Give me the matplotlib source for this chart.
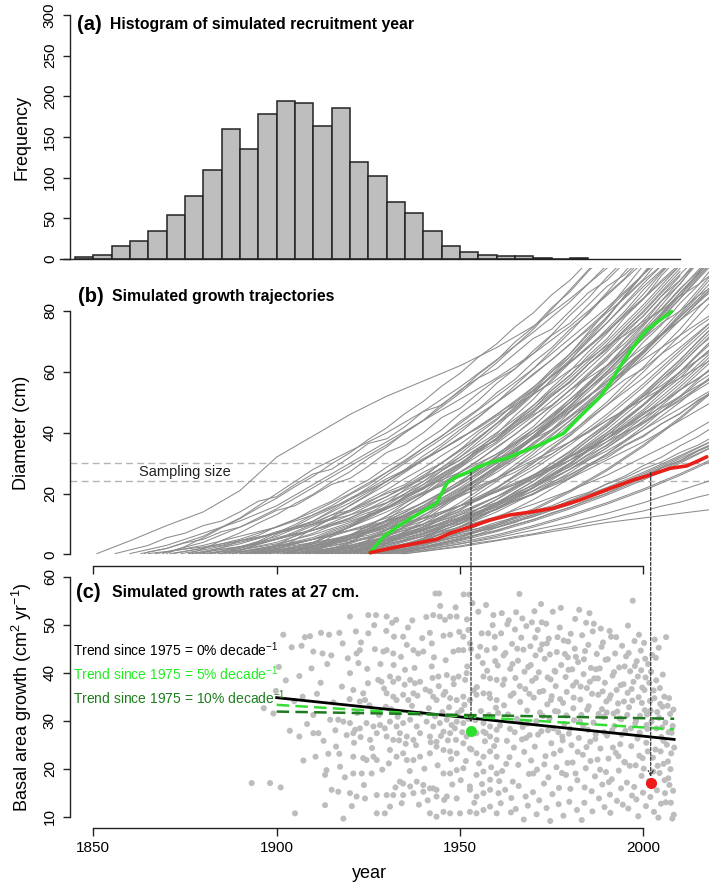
import numpy as np
import matplotlib.pyplot as plt
from matplotlib.patches import ConnectionPatch

plt.rcParams['font.family'] = ['Liberation Sans', 'DejaVu Sans']
plt.rcParams['mathtext.default'] = 'regular'

# ---------------- data ----------------
# (a) histogram of recruitment year, 5-year bins starting 1845
hist_left = list(range(1845, 1985, 5))
hist_counts = [2, 5, 16, 22, 35, 54, 78, 109, 160, 135, 178, 194, 192, 163,
               186, 119, 102, 70, 57, 34, 16, 9, 5, 4, 4, 1, 0, 1]

# (b) grey trajectories: start year, then diameter (cm) at each following decade
traj_start = [1851, 1860, 1863, 1867, 1871, 1874, 1877, 1880, 1882, 1884, 1886, 1887,
              1889, 1890, 1892, 1893, 1895, 1896, 1897, 1899, 1900, 1901, 1903, 1904,
              1905, 1906, 1907, 1908, 1909, 1910, 1911, 1912, 1913, 1914, 1915, 1916,
              1917, 1918, 1919, 1920, 1921, 1922, 1923, 1924, 1926, 1927, 1928, 1929,
              1931, 1933, 1935, 1930, 1869, 1885, 1898, 1902, 1912, 1919, 1925, 1908,
              1865, 1876, 1881, 1891, 1894]
traj_diam = [
    [4.5, 9.5, 14, 21, 32, 39, 46, 52, 57, 62, 68, 75, 84, 94, 104],
    [3, 7, 11, 16, 23, 30, 37, 44, 51, 58, 66, 75, 85, 96],
    [2, 6, 12, 20, 28, 34, 40, 47, 55, 64, 73, 83, 95],
    [0.8, 3, 6, 9, 13, 18, 24, 31, 38, 46, 55, 65, 76, 88, 99],
    [2, 5, 9, 14, 20, 27, 35, 43, 52, 61, 71, 81, 92, 103],
    [1.5, 4, 7, 10, 13, 17, 22, 27, 33, 40, 48, 56, 64, 72, 80],
    [1, 3.5, 7, 11, 17, 24, 31, 38, 46, 54, 63, 73, 84, 95],
    [2, 5, 8, 11, 15, 20, 26, 33, 41, 50, 59, 68, 77, 86],
    [2.5, 6, 11, 18, 26, 34, 42, 50, 59, 69, 80, 92, 104],
    [1, 3, 5, 8, 11, 15, 20, 25, 31, 37, 44, 51, 58, 65],
    [1.5, 4, 8, 13, 19, 26, 34, 43, 53, 64, 76, 89, 101],
    [0.8, 2.5, 5, 8, 12, 17, 23, 30, 38, 47, 57, 67, 78, 89],
    [0.7, 3, 7, 12, 18, 24, 31, 39, 48, 58, 69, 81, 94],
    [2, 4, 6, 9, 12, 16, 21, 26, 32, 38, 45, 52, 59],
    [2, 5, 9, 14, 20, 27, 35, 44, 54, 65, 77, 90, 103],
    [1.5, 3.5, 6, 9.5, 14, 19, 25, 32, 40, 49, 58, 68, 78],
    [1, 4, 9, 15, 23, 32, 42, 53, 65, 78, 92, 106],
    [0.8, 2.5, 4.5, 7, 10, 14, 19, 25, 31, 38, 46, 54, 62],
    [1, 3, 6, 10, 15, 21, 28, 36, 45, 55, 66, 78, 90],
    [0.6, 2.5, 5.5, 9.5, 15, 22, 30, 39, 49, 60, 72, 85, 98],
    [2, 4, 6.5, 9.5, 13, 17, 22, 28, 34, 41, 48, 55],
    [2.5, 6, 11, 17, 24, 32, 41, 51, 62, 74, 87, 100],
    [1.5, 4, 7, 11, 16, 22, 29, 37, 46, 56, 67, 78],
    [1.2, 3, 5.5, 8.5, 12, 16.5, 22, 28, 35, 43, 51, 59],
    [1.5, 5, 10, 16, 23, 31, 40, 50, 61, 73, 86, 99],
    [1, 3, 6, 10, 15, 21, 28, 36, 45, 55, 66, 77],
    [0.8, 2.5, 5, 8, 11.5, 15.5, 20, 25, 31, 37, 44, 51],
    [0.8, 3.5, 8, 14, 21, 29, 38, 48, 59, 71, 84, 97],
    [0.6, 2.5, 5.5, 9, 13.5, 19, 25, 32, 40, 49, 59, 69],
    [2, 4.5, 7.5, 11, 15, 20, 26, 33, 41, 50, 60],
    [2, 5, 10, 17, 25, 34, 44, 55, 67, 80, 94],
    [1.5, 3.5, 6, 9, 12.5, 16.5, 21, 26, 32, 38, 45],
    [1.5, 4, 8, 13, 19, 26, 34, 43, 53, 64, 76],
    [1, 3, 6, 10, 15, 21, 28, 36, 45, 55, 66],
    [1.2, 4.5, 9, 15, 22, 30, 39, 49, 60, 72, 85],
    [0.8, 2.5, 4.5, 7, 10, 13.5, 17.5, 22, 27, 32.5, 38],
    [0.9, 3, 6.5, 11, 16.5, 23, 30, 38, 47, 57, 68],
    [0.7, 3, 7, 12, 18, 25, 33, 42, 52, 63, 75],
    [0.6, 2, 4, 6.5, 9.5, 13, 17, 21.5, 26.5, 32, 38],
    [2.5, 6, 11, 17, 24, 32, 41, 51, 62, 74],
    [2, 5, 9, 14, 20, 27, 35, 44, 54, 65],
    [1.5, 3.5, 6, 9, 12.5, 16.5, 21, 26, 31.5, 37],
    [1.5, 4.5, 9, 15, 22, 30, 39, 49, 60, 72],
    [1, 3, 6, 10, 15, 21, 28, 36, 45, 55],
    [0.8, 2.5, 5, 8, 11.5, 15.5, 20, 25, 30.5, 36],
    [0.8, 3, 7, 12, 18, 25, 33, 42, 52, 63],
    [0.6, 2, 4, 6.5, 9.5, 13, 17, 21.5, 26.5, 32],
    [0.6, 2.5, 5.5, 9.5, 14.5, 20.5, 27.5, 35.5, 44.5, 54.5],
    [2, 4.5, 7.5, 11, 15, 19.5, 24.5, 30, 36],
    [1.5, 3.5, 6, 9, 12.5, 16.5, 21, 26, 31.5],
    [1, 2.5, 4.5, 6.5, 8.5, 10.5, 12, 13.5, 15],
    [1.5, 3.5, 5.5, 8, 10.5, 13.5, 17, 21, 25],
    [0.8, 4, 9, 15, 22, 29, 36, 44, 53, 63, 74, 87, 100],
    [1.5, 5, 10, 16, 23, 31, 40, 50, 61, 73, 86, 100],
    [1, 4, 9, 16, 24, 33, 43, 54, 66, 80, 95],
    [2, 5, 9, 14, 20, 27, 35, 44, 54, 65, 77, 89],
    [2, 6, 12, 20, 29, 39, 50, 62, 75, 89, 103],
    [0.8, 4, 9, 16, 24, 33, 43, 54, 66, 79, 93],
    [1.5, 4.5, 9, 15, 22, 30, 39, 49, 60, 72],
    [0.8, 2, 4, 7, 11, 16, 22, 29, 37, 46, 56, 67],
    [1, 2.5, 4.5, 7, 10, 14, 19, 25, 32, 40, 49, 59, 70, 82, 95],
    [0.8, 2.5, 5, 8, 12, 17, 23, 30, 38, 47, 57, 68, 80, 93],
    [1.5, 3.5, 6.5, 10.5, 15.5, 21.5, 28.5, 36.5, 45.5, 55.5, 66.5, 78.5, 91.5],
    [1.5, 3.5, 6.5, 10.5, 15.5, 21.5, 28.5, 36.5, 45.5, 55.5, 66.5, 78.5, 91.5],
    [1.2, 3, 5.5, 8.5, 12, 16, 20.5, 25.5, 31, 37, 43.5, 50.5, 58],
]

# more grey trajectories: start year, then diameter (cm) every 5 years
traj5_start = [1856, 1864, 1872, 1878, 1883, 1888, 1894, 1898, 1903, 1909, 1913, 1916,
               1918, 1921, 1923, 1924, 1926, 1928, 1932, 1934, 1879, 1905, 1911, 1927, 1890,
               1888, 1897, 1906, 1914, 1920, 1876, 1902, 1917, 1893, 1911, 1924, 1885,
               1929, 1908, 1870]
traj5_diam = [
    [1.5, 3, 5.5, 7, 9.5, 11, 14, 17.5, 19, 23, 26.5, 28, 32, 36.5, 38, 42, 47, 49, 54, 58,
     61, 66, 71, 74, 80, 86, 90, 96],
    [0.8, 2, 3.8, 5, 7.5, 9, 11.5, 14.5, 16, 19.5, 23, 25, 29, 33.5, 36, 40, 45, 48, 53,
     57.5, 61, 66, 72, 76, 82, 88, 92, 98],
    [1, 2.2, 3, 4.6, 5.5, 7.5, 9, 10.5, 13, 14.5, 17.5, 20, 22, 25.5, 28, 31, 35, 37.5, 42,
     46, 49, 54, 58, 62, 67, 71, 76, 80, 85, 89],
    [0.7, 1.8, 2.6, 4, 5, 6.8, 8, 10, 11.5, 13.8, 15.5, 18, 20.5, 22.5, 25.5, 28, 31.5, 34,
     38, 41, 45.5, 49, 53, 57.5, 61, 66, 70, 75, 79],
    [1, 2.5, 3.5, 5.5, 7, 9.5, 11.5, 14.5, 17, 20.5, 23, 27, 30, 34.5, 38, 43, 47, 52.5, 57,
     63, 68, 74, 80, 87, 93, 100],
    [0.8, 1.5, 2.8, 3.5, 5, 6, 7.8, 9, 11, 12.5, 15, 16.8, 19.5, 21.5, 24.5, 27, 30.5, 33,
     37, 40, 44, 47.5, 52, 55.5, 60, 64, 68],
    [0.6, 1.8, 3.5, 5, 7.5, 9.5, 12.5, 15, 18.5, 21.5, 25.5, 29, 33.5, 37, 42, 46.5, 52,
     56.5, 62.5, 67.5, 74, 79.5, 86, 92, 98],
    [0.8, 1.5, 2.8, 3.6, 5.2, 6.3, 8.2, 9.5, 11.8, 13.4, 16, 17.8, 20.8, 23, 26.2, 28.8,
     32.5, 35.2, 39.2, 42.2, 46.5, 49.8, 54.2, 57.8, 62],
    [0.9, 2.6, 4, 6.4, 8.4, 11.3, 13.8, 17.2, 20.2, 24.2, 27.6, 32, 36, 41, 45.4, 51, 55.8,
     61.8, 67, 73.5, 79, 86, 92, 99],
    [0.5, 1.5, 2.4, 3.8, 4.9, 6.6, 7.9, 10, 11.6, 14, 15.9, 18.6, 20.8, 23.8, 26.3, 29.6,
     32.4, 36, 39.1, 43, 46.4, 50.5, 54],
    [1, 2.9, 4.6, 7.4, 9.7, 13, 15.8, 19.8, 23.1, 27.8, 31.6, 36.8, 41, 46.8, 51.5, 57.8,
     63, 69.8, 75.5, 82.5, 88.5, 96],
    [1.2, 2.6, 3.7, 5.5, 6.8, 8.9, 10.4, 12.9, 14.7, 17.6, 19.7, 23, 25.4, 29, 31.7, 35.7,
     38.7, 43, 46.2, 50.8, 54.2],
    [0.6, 2.2, 3.6, 6.2, 8.4, 11.6, 14.4, 18.2, 21.6, 26, 30, 35, 39.4, 45, 50, 56, 61.5,
     68, 74, 81, 87],
    [0.9, 2, 3, 4.5, 5.6, 7.3, 8.6, 10.6, 12.1, 14.3, 16, 18.5, 20.4, 23.1, 25.2, 28.1,
     30.4, 33.5, 36, 39.3],
    [0.6, 1.9, 3.6, 5.3, 7.8, 10.1, 13.2, 16, 19.7, 23, 27.2, 31, 35.6, 39.8, 44.8, 49.4,
     54.8, 59.8, 65.6, 71],
    [0.4, 1.2, 2.4, 3.3, 4.8, 5.9, 7.6, 8.9, 10.9, 12.4, 14.6, 16.3, 18.8, 20.7, 23.4, 25.5,
     28.5, 30.8, 34, 36.5],
    [1.3, 3.2, 5, 7.8, 10.2, 13.6, 16.6, 20.6, 24.1, 28.6, 32.6, 37.6, 42, 47.5, 52.4,
     58.4, 63.8, 70.2, 76],
    [0.4, 1.5, 2.3, 3.7, 4.8, 6.5, 7.8, 9.8, 11.4, 13.7, 15.5, 18.1, 20.1, 23, 25.2, 28.4,
     30.8, 34.2, 36.9],
    [0.8, 2.2, 3.4, 5.2, 6.7, 8.8, 10.5, 13, 15, 17.8, 20.1, 23.2, 25.8, 29.2, 32, 35.7,
     38.8, 42.7],
    [0.3, 1.1, 2, 2.8, 3.9, 4.7, 5.9, 6.8, 8.1, 9.1, 10.5, 11.6, 13.1, 14.3, 15.9, 17.2,
     18.9, 20.3],
    [0.5, 2.2, 4.5, 6.3, 9.2, 11.5, 14.8, 17.5, 21.3, 24.5, 28.7, 32.3, 37, 41, 46.2, 50.6,
     56.2, 61, 67, 72.2, 78.6, 84.2, 91, 97],
    [1.6, 3.9, 6.2, 9.6, 12.6, 16.8, 20.4, 25.2, 29.4, 34.8, 39.6, 45.6, 51, 57.6, 63.6,
     70.8, 77.4, 85.2, 92.4, 100],
    [1.1, 2.1, 3.6, 4.8, 6.7, 8.2, 10.5, 12.3, 15, 17.1, 20.2, 22.6, 26.1, 28.8, 32.7, 35.7,
     40, 43.3, 48, 51.6, 56.7, 60.6],
    [0.9, 2.8, 4.4, 7, 9.2, 12.3, 15, 18.6, 21.8, 25.9, 29.5, 34.1, 38.1, 43.2, 47.6, 53.2,
     58, 64.1, 69.3],
    [1.3, 2.4, 4.2, 5.6, 8, 9.9, 12.9, 15.3, 18.9, 21.8, 26, 29.4, 34.2, 38.1, 43.5, 47.9,
     53.9, 58.8, 65.4, 70.8, 78, 83.9, 91.7, 98],
    [1.2, 3.5, 6.6, 9.2, 12.4, 15.1, 18.5, 21.4, 24.9, 27.8, 31.5, 34.6, 38.4, 41.5, 45.5,
     48.8, 52.9, 56.3, 60.6, 64.1, 68.5, 72.1, 76.6, 80.3, 84.9, 88.7, 93.4],
    [1.5, 4.8, 8.7, 12.1, 16.2, 19.8, 24.1, 27.9, 32.4, 36.3, 41, 45.1, 50, 54.3, 59.4,
     63.9, 69.2, 73.9, 79.4, 84.3, 90, 95],
    [2.2, 5.9, 9.2, 13.3, 16.9, 21.4, 25.3, 30.2, 34.4, 39.7, 44.2, 49.9, 54.7, 60.8, 65.9,
     72.4, 77.8, 84.7, 90.4, 97.7],
    [0.7, 3.9, 7.8, 11.3, 15.6, 19.5, 24.2, 28.5, 33.6, 38.3, 43.8, 48.9, 54.8, 60.3, 66.6,
     72.5, 79.2, 85.5, 92.6, 99],
    [2.8, 5.7, 9.4, 12.7, 16.8, 20.5, 25, 29.1, 34, 38.5, 43.8, 48.7, 54.4, 59.7, 65.8,
     71.5, 78, 84.1, 91, 97.5],
    [1.8, 4.6, 7.1, 10.3, 13.1, 16.7, 19.8, 23.8, 27.2, 31.6, 35.3, 40.1, 44.1, 49.3, 53.6,
     59.2, 63.8, 69.8, 74.7, 81.1, 86.3, 93.1, 98.6],
    [1.4, 3.6, 6.6, 9.1, 12.5, 15.3, 19.1, 22.2, 26.4, 29.8, 34.4, 38.1, 43.1, 47.1, 52.5,
     56.8, 62.6, 67.2, 73.4, 78.3, 84.9, 90.1, 97.1],
    [1.5, 4.9, 8, 11.9, 15.3, 19.7, 23.4, 28.3, 32.3, 37.7, 42, 47.9, 52.5, 58.9, 63.8,
     70.7, 75.9, 83.3, 88.8, 96.7],
    [1, 3.2, 6.1, 8.6, 11.8, 14.6, 18.1, 21.2, 25, 28.4, 32.5, 36.2, 40.6, 44.6, 49.3,
     53.6, 58.6, 63.2, 68.5, 73.4, 79, 84.2, 90.1, 95.6],
    [1.8, 4.1, 7.2, 9.8, 13.2, 16.1, 19.8, 23, 27, 30.5, 34.8, 38.6, 43.2, 47.3, 52.2,
     56.6, 61.8, 66.5, 72, 77, 82.8, 88.1],
    [0.6, 3.6, 7.5, 11, 15.3, 19.2, 23.9, 28.2, 33.3, 38, 43.5, 48.6, 54.5, 60, 66.3, 72.2,
     78.9, 85.2, 92.3, 99],
    [2.1, 4.3, 7.2, 9.8, 13.1, 16, 19.7, 22.9, 27, 30.5, 35, 38.8, 43.7, 47.8, 53.1, 57.5,
     63.2, 67.9, 74, 79, 85.5, 90.8, 97.7],
    [0.5, 2.9, 5.4, 8.6, 11.4, 15, 18.1, 22.1, 25.5, 29.9, 33.6, 38.4, 42.4, 47.6, 51.9,
     57.5, 62.1, 68.1, 73],
    [0.9, 3.4, 6.4, 9.2, 12.6, 15.7, 19.5, 22.9, 27.1, 30.8, 35.4, 39.4, 44.4, 48.7, 54.1,
     58.7, 64.5, 69.4, 75.6, 80.8, 87.4, 92.9, 99.9],
    [2.6, 5.5, 8.8, 11.8, 15.3, 18.5, 22.3, 25.7, 29.8, 33.4, 37.8, 41.6, 46.3, 50.3, 55.3,
     59.5, 64.8, 69.2, 74.8, 79.4, 85.3, 90.1, 96.3],
]

# highlighted trajectories
green_year = [1925.5, 1929.1, 1933.6, 1938.2, 1943.6, 1946.4, 1949.1, 1952.7, 1954.6,
              1958.2, 1962.7, 1966.4, 1971.8, 1978.2, 1983.6, 1988.2, 1990.9, 1993.6,
              1997.3, 2000.9, 2004.5, 2007.7]
green_diam = [0.6, 5.8, 9.7, 13.0, 16.8, 23.4, 25.6, 27.2, 28.6, 30.2, 31.6, 33.5,
              36.0, 39.8, 46.4, 51.8, 56.2, 61.7, 68.3, 73.8, 77.0, 79.8]
red_year = [1925.5, 1930.9, 1938.2, 1943.6, 1947.3, 1952.7, 1958.2, 1963.6, 1969.1,
            1975.4, 1982.7, 1990.9, 1997.3, 2001.8, 2007.3, 2011.8, 2014.5, 2017.3]
red_diam = [0.6, 2.0, 3.7, 5.0, 7.0, 9.1, 11.3, 13.0, 13.9, 15.2, 17.9, 21.7, 24.5,
            26.1, 28.3, 29.1, 30.5, 32.1]

sampling_lo, sampling_hi = 24, 30
sample_cm = 27
green_cross, red_cross = 1953, 2002
green_bai, red_bai = 27.9, 17.1

# (c) growth rate at 27 cm, early part (to ~1960)
pt_year_early = [
    1920.0, 1925.0, 1927.1, 1930.0, 1932.6, 1942.7, 1944.5, 1945.9, 1947.3, 1949.1, 1957.1, 1959.1,
    1901.8, 1907.7, 1912.1, 1914.3, 1917.1, 1925.0, 1932.0, 1934.5, 1941.8, 1945.5, 1947.3, 1950.9,
    1952.3, 1952.7, 1955.9, 1957.7, 1959.5,
    1904.1, 1910.0, 1912.5, 1918.0, 1922.7, 1921.8, 1929.1, 1930.0, 1931.8, 1935.5, 1937.3, 1938.6,
    1940.0, 1942.3, 1948.2, 1949.6, 1950.9, 1955.5, 1957.3, 1959.5,
    1920.0, 1922.3, 1906.2, 1927.7, 1928.6, 1930.9, 1931.8, 1933.2, 1936.4, 1937.7, 1939.1, 1942.3,
    1944.1, 1946.4, 1948.2, 1949.6, 1951.4, 1951.8, 1956.4, 1958.2, 1960.0,
    1920.9, 1923.6, 1907.1, 1930.0, 1931.8, 1932.7, 1934.5, 1935.9, 1937.3, 1941.8, 1942.7, 1943.6,
    1945.5, 1947.3, 1949.1, 1950.9, 1952.7, 1954.5, 1956.4, 1958.2, 1960.0, 1922.7, 1924.1,
    1899.1, 1910.0, 1914.6, 1916.8, 1918.2, 1920.0, 1921.4, 1922.7, 1924.5, 1926.4, 1928.2, 1929.5,
    1930.9, 1932.7, 1934.5, 1936.4, 1938.2, 1940.9, 1942.7, 1944.5, 1946.4, 1947.7, 1949.1, 1950.9,
    1956.4, 1958.2, 1960.0,
    1906.2, 1910.0, 1911.4, 1919.1, 1920.9, 1925.5, 1927.3, 1930.0, 1931.8, 1933.6, 1935.5, 1937.3,
    1939.1, 1941.8, 1943.6, 1945.5, 1947.3, 1948.6, 1951.8, 1954.5, 1956.4, 1958.2, 1960.0,
    1914.1, 1917.1, 1920.9, 1923.6, 1924.5, 1926.4, 1927.3, 1930.9, 1932.7, 1934.5, 1935.5, 1937.3,
    1939.1, 1941.8, 1943.6, 1945.5, 1947.3, 1949.1, 1950.9, 1952.7, 1954.5, 1956.4, 1958.2, 1960.0,
    1913.6, 1913.2, 1917.3, 1920.9, 1923.2, 1925.9, 1933.6, 1934.5, 1936.4, 1938.2, 1940.0, 1941.8,
    1943.6, 1945.5, 1947.3, 1949.1, 1950.9, 1952.7, 1954.5, 1956.4, 1958.2, 1960.0,
    1893.2, 1898.2, 1901.1, 1915.0, 1916.8, 1920.0, 1921.8, 1924.1, 1927.3, 1930.0, 1931.8, 1934.5,
    1937.3, 1940.0, 1942.7, 1943.6, 1946.4, 1949.1, 1952.7, 1954.5, 1956.4, 1958.2, 1960.5,
    1905.0, 1913.2, 1918.2, 1927.3, 1929.5, 1930.9, 1941.8, 1943.6, 1945.5, 1947.3, 1950.0, 1952.7,
    1954.5, 1956.4, 1958.2, 1960.0,
    1943.3, 1944.3, 1951.0, 1952.5, 1953.4,
]
pt_bai_early = [
    51.7, 52.0, 52.0, 51.7, 51.0, 52.0, 51.7, 51.0, 51.7, 51.7, 54.1, 52.0,
    47.9, 47.4, 48.3, 47.9, 48.3, 48.2, 47.5, 47.5, 48.3, 47.7, 47.9, 47.5,
    48.9, 46.1, 48.2, 48.2, 47.5,
    45.3, 44.4, 44.0, 46.1, 44.7, 44.0, 44.4, 44.7, 44.0, 45.8, 44.7, 44.0,
    44.4, 46.1, 44.4, 44.7, 44.7, 45.4, 44.7, 45.1,
    39.9, 42.0, 39.3, 38.5, 38.1, 39.2, 38.1, 38.8, 38.5, 37.8, 38.1, 41.3,
    39.2, 39.5, 38.8, 39.2, 38.5, 39.9, 39.2, 38.8, 38.5,
    36.4, 35.7, 35.0, 35.7, 35.0, 34.3, 35.4, 34.3, 35.7, 36.1, 35.0, 34.3,
    35.4, 34.7, 34.3, 35.0, 34.3, 35.4, 35.7, 34.7, 34.3, 34.0, 34.3,
    31.5, 31.2, 30.2, 30.2, 29.8, 29.5, 28.1, 28.4, 29.5, 28.8, 29.1, 28.4,
    29.8, 28.8, 29.5, 30.2, 28.8, 29.8, 28.8, 29.5, 30.2, 29.1, 29.8, 29.5,
    29.5, 28.8, 28.1,
    26.7, 27.4, 27.4, 27.0, 27.4, 26.0, 27.4, 26.7, 26.0, 27.4, 26.7, 26.0,
    27.4, 26.7, 25.6, 27.7, 27.4, 28.4, 26.7, 27.4, 27.7, 26.7, 26.0,
    23.1, 23.1, 22.5, 22.2, 21.8, 22.5, 21.8, 23.9, 22.5, 23.2, 21.8, 21.8,
    22.5, 23.2, 24.6, 23.9, 23.6, 23.2, 25.3, 24.2, 23.2, 22.5, 23.6, 22.5,
    19.7, 18.7, 20.4, 19.0, 19.0, 19.0, 17.3, 16.9, 16.3, 17.3, 16.6, 15.9,
    15.6, 19.0, 19.0, 19.7, 20.1, 16.3, 18.7, 19.4, 17.7, 19.0,
    17.0, 17.0, 16.1, 15.6, 15.2, 14.9, 14.2, 13.8, 14.5, 14.5, 14.5, 14.5,
    14.9, 15.2, 15.9, 14.2, 14.2, 13.8, 15.6, 14.2, 14.9, 15.6, 14.9,
    10.7, 12.4, 9.6, 10.7, 10.7, 12.1, 10.7, 10.0, 11.0, 10.7, 10.7, 11.0,
    10.7, 11.4, 12.1, 10.7,
    56.5, 56.5, 56.3, 56.3, 54.5,
]

# (c) late part (1961-2008)
pt_year_late = [
    1961.2, 1961.7, 1960.9, 1961.5, 1961.1, 1962.4, 1962.0, 1962.8, 1962.3,
    1963.3, 1963.7, 1963.1, 1963.5, 1963.9, 1964.2, 1964.6, 1964.9, 1964.4, 1964.0,
    1965.3, 1965.8, 1965.1, 1965.5, 1965.9, 1965.2, 1966.2, 1966.7, 1966.4, 1966.9, 1966.0,
    1967.3, 1967.8, 1967.1, 1967.5, 1967.9, 1967.4, 1968.1, 1968.6, 1968.3, 1968.8, 1968.5,
    1969.2, 1969.7, 1969.0, 1969.4, 1969.9, 1970.3, 1970.6, 1970.1, 1970.8, 1970.4, 1970.9,
    1971.2, 1971.5, 1971.8, 1971.0, 1971.6, 1972.1, 1972.4, 1972.7, 1972.2, 1972.9,
    1973.5, 1973.1, 1973.8, 1973.3, 1973.6, 1974.2, 1974.7, 1974.4, 1974.9, 1974.1, 1974.6,
    1975.3, 1975.8, 1975.0, 1975.5, 1975.2, 1976.4, 1976.1, 1976.7, 1976.3, 1976.9,
    1977.2, 1977.6, 1977.9, 1977.4, 1977.0, 1978.3, 1978.8, 1978.1, 1978.5, 1978.9, 1978.2,
    1979.4, 1979.1, 1979.7, 1979.3, 1979.8, 1980.2, 1980.6, 1980.9, 1980.4, 1980.1,
    1981.3, 1981.7, 1981.1, 1981.5, 1981.9, 1982.5, 1982.2, 1982.8, 1982.4, 1982.0,
    1983.3, 1983.7, 1983.1, 1983.5, 1983.9, 1983.2, 1984.4, 1984.1, 1984.6, 1984.9, 1984.3,
    1985.3, 1985.7, 1985.1, 1985.5, 1985.9, 1986.2, 1986.6, 1986.4, 1986.8, 1986.1,
    1987.3, 1987.7, 1987.0, 1987.5, 1987.9, 1988.4, 1988.1, 1988.7, 1988.3, 1988.8,
    1989.0, 1989.5, 1989.2, 1989.8, 1989.4, 1990.3, 1990.7, 1990.1, 1990.5, 1990.9,
    1991.2, 1991.6, 1991.9, 1991.4, 1991.0, 1992.3, 1992.7, 1992.1, 1992.5, 1992.8,
    1993.4, 1993.1, 1993.7, 1993.3, 1993.9, 1994.2, 1994.6, 1994.0, 1994.8, 1994.4,
    1995.3, 1995.7, 1995.1, 1995.5, 1995.9, 1996.4, 1996.1, 1996.7, 1996.3, 1996.9,
    1997.1, 1997.6, 1997.3, 1997.8, 1997.5, 1998.2, 1998.7, 1998.4, 1998.9, 1998.1, 1998.6,
    1999.3, 1999.7, 1999.1, 1999.5, 1999.9, 2000.2, 2000.6, 2000.4, 2000.8, 2000.1, 2000.7,
    2001.3, 2001.8, 2001.1, 2001.5, 2001.9, 2002.4, 2002.8, 2002.2, 2002.6, 2002.9,
    2003.1, 2003.5, 2003.8, 2003.3, 2003.7, 2004.2, 2004.6, 2004.9, 2004.4, 2004.8, 2004.1,
    2005.3, 2005.7, 2005.1, 2005.5, 2005.9, 2006.2, 2006.6, 2006.4, 2006.8, 2006.1,
    2007.3, 2007.7, 2007.1, 2007.5, 2007.9, 2008.2, 2008.4, 2008.1, 2008.3,
]
pt_bai_late = [
    48.2, 37.5, 29.0, 19.5, 12.8, 44.1, 33.2, 25.8, 15.6,
    50.9, 40.8, 31.3, 22.4, 10.9, 46.0, 35.7, 27.6, 17.3, 13.9,
    52.6, 42.5, 38.9, 30.4, 20.8, 11.6, 56.4, 47.3, 33.9, 26.1, 16.4,
    44.8, 36.6, 28.7, 23.5, 14.2, 9.4, 49.7, 41.2, 32.1, 18.9, 12.3,
    45.5, 38.3, 27.0, 21.7, 15.1, 52.8, 43.6, 34.8, 29.9, 24.6, 10.5,
    48.9, 40.1, 31.7, 19.8, 13.4, 54.3, 45.9, 36.2, 27.8, 16.9,
    50.2, 42.9, 33.4, 22.6, 11.8, 47.1, 38.6, 30.5, 25.3, 18.2, 9.1,
    52.7, 40.4, 35.1, 28.4, 14.7, 44.3, 37.2, 31.9, 20.3, 12.6,
    49.4, 41.6, 26.7, 23.8, 16.0, 46.7, 39.1, 33.7, 29.3, 18.7, 10.2,
    43.2, 36.0, 27.3, 21.2, 13.1, 48.1, 40.7, 32.6, 24.9, 15.8,
    45.0, 38.0, 30.1, 19.0, 11.4, 53.1, 42.2, 34.4, 26.4, 17.6,
    47.8, 39.7, 31.2, 22.9, 12.9, 9.3, 50.4, 44.5, 36.8, 28.1, 20.1,
    52.4, 41.0, 33.0, 25.6, 15.3, 48.6, 38.8, 29.6, 18.4, 11.1,
    43.9, 35.4, 27.2, 21.9, 13.8, 49.2, 40.9, 32.4, 24.2, 16.7,
    46.3, 37.9, 30.8, 19.3, 12.0, 42.8, 34.6, 26.9, 22.1, 14.6,
    47.5, 39.4, 31.5, 17.8, 10.8, 44.0, 36.4, 28.9, 23.3, 13.3,
    41.1, 33.6, 25.1, 19.6, 15.9, 45.6, 37.6, 30.3, 21.4, 12.5,
    43.4, 35.8, 27.9, 17.1, 11.7, 40.3, 32.8, 24.7, 20.6, 14.4,
    55.0, 46.6, 38.1, 29.5, 16.2, 42.4, 34.9, 26.3, 22.7, 13.6, 10.1,
    44.6, 36.9, 31.0, 18.5, 15.0, 46.2, 39.0, 32.2, 25.4, 20.0, 12.2,
    41.8, 34.1, 28.3, 17.4, 14.1, 43.7, 36.3, 29.8, 22.3, 11.0,
    46.9, 38.4, 31.8, 24.0, 15.5, 45.2, 33.5, 26.6, 19.1, 12.7, 9.8,
    39.6, 35.0, 28.6, 21.0, 14.9, 47.4, 33.1, 25.0, 18.0, 13.0,
    31.4, 27.5, 16.6, 12.9, 9.6, 32.3, 24.4, 15.4, 10.4,
]

# (c) further points filling the cloud
pt_year_extra = [
    1896.5, 1899.8, 1902.5, 1903.6, 1906.8, 1908.3, 1909.5, 1911.0, 1912.8, 1913.8,
    1915.5, 1916.2, 1917.8, 1918.6, 1919.4, 1920.5, 1921.1, 1922.0, 1923.0, 1923.8,
    1924.7, 1925.3, 1926.0, 1926.8, 1927.9, 1928.8, 1929.3, 1929.9, 1930.6, 1931.2,
    1931.9, 1932.4, 1933.0, 1933.9, 1934.1, 1934.9, 1935.2, 1935.8, 1936.3, 1936.9,
    1937.6, 1938.0, 1938.8, 1939.3, 1939.7, 1940.3, 1940.6, 1941.2, 1941.5, 1942.0,
    1942.9, 1943.2, 1943.9, 1944.2, 1944.8, 1945.2, 1945.7, 1946.1, 1946.7, 1947.0,
    1947.9, 1948.3, 1948.9, 1949.4, 1949.8, 1950.2, 1950.6, 1951.2, 1951.6, 1952.0,
    1952.2, 1953.1, 1953.7, 1953.9, 1954.2, 1954.9, 1955.2, 1955.7, 1956.0, 1956.8,
    1957.4, 1957.9, 1958.5, 1958.9, 1959.3, 1959.8, 1960.3, 1960.7, 1961.9, 1962.6,
    1962.9, 1963.8, 1964.7, 1965.6, 1966.5, 1967.6, 1968.0, 1968.9, 1969.6, 1970.0,
    1970.7, 1971.3, 1971.9, 1972.6, 1973.0, 1973.9, 1974.0, 1974.5, 1975.6, 1975.9,
    1976.6, 1976.8, 1977.3, 1977.8, 1978.6, 1979.0, 1979.6, 1980.0, 1980.7, 1981.0,
    1981.6, 1982.1, 1982.9, 1983.6, 1984.0, 1984.7, 1985.0, 1985.6, 1986.0, 1986.9,
    1987.1, 1987.8, 1988.2, 1988.9, 1989.3, 1989.7, 1990.0, 1990.6, 1991.1, 1991.7,
    1992.0, 1992.9, 1993.2, 1993.8, 1994.1, 1994.7, 1995.0, 1995.6, 1996.0, 1996.6,
    1997.0, 1997.9, 1998.0, 1998.5, 1999.0, 1999.6, 1999.8, 2000.3, 2000.9, 2001.2,
    2001.6, 2002.0, 2002.7, 2003.0, 2003.6, 2003.9, 2004.3, 2004.7, 2005.2, 2005.8,
    2006.0, 2006.7, 2007.0, 2007.6, 2008.0,
]
pt_bai_extra = [
    32.6, 36.2, 38.4, 27.9, 45.6, 29.3, 40.9, 35.6, 25.8, 41.8,
    33.8, 24.6, 37.1, 18.2, 43.0, 12.2, 25.4, 31.6, 46.3, 16.6,
    40.8, 33.2, 24.3, 44.9, 31.2, 19.8, 36.7, 48.7, 21.1, 32.4,
    41.6, 16.1, 30.8, 43.3, 12.8, 37.5, 25.2, 49.4, 19.5, 33.1,
    41.0, 24.9, 12.5, 31.5, 47.2, 20.0, 36.5, 13.4, 32.6, 25.5,
    43.2, 30.9, 20.7, 37.2, 26.8, 31.8, 13.5, 42.6, 25.9, 32.8,
    16.7, 37.6, 26.0, 31.6, 48.5, 17.6, 27.6, 33.3, 21.6, 41.3,
    30.4, 24.0, 36.3, 12.9, 30.1, 43.4, 21.1, 32.0, 16.8, 25.7,
    40.4, 31.2, 20.3, 49.9, 24.7, 32.7, 41.5, 17.4, 43.6, 21.0,
    50.1, 35.2, 24.4, 45.0, 29.7, 40.2, 26.4, 35.6, 50.5, 19.0,
    38.9, 27.1, 44.8, 31.0, 20.9, 39.0, 28.0, 43.8, 23.1, 32.0,
    47.4, 27.6, 34.5, 19.1, 43.9, 31.1, 40.6, 28.3, 21.3, 34.8,
    43.3, 23.5, 37.1, 28.9, 16.1, 32.3, 45.8, 21.6, 35.6, 26.2,
    40.7, 31.4, 19.8, 36.1, 27.6, 42.7, 31.7, 17.2, 35.3, 24.4,
    40.1, 31.9, 22.6, 37.4, 27.1, 34.0, 21.3, 31.2, 44.1, 28.4,
    34.2, 20.7, 30.0, 39.2, 27.5, 33.7, 22.2, 36.4, 29.1, 23.6,
    37.9, 32.1, 19.4, 34.7, 28.4, 20.6, 30.6, 23.6, 32.9, 17.6,
    29.6, 21.5, 34.7, 23.2, 28.9,
]
pt_year_more = [
    1900.6, 1904.8, 1907.3, 1909.1, 1910.6, 1912.0, 1914.9, 1916.0, 1919.9, 1921.6,
    1922.9, 1924.9, 1926.6, 1928.3, 1929.8, 1931.5, 1933.4, 1935.0, 1937.0, 1938.4,
    1940.8, 1942.5, 1944.6, 1946.0, 1947.6, 1948.8, 1950.4, 1951.9, 1953.0, 1954.6,
    1955.0, 1956.2, 1957.0, 1958.0, 1959.6, 1960.4, 1961.4, 1962.1, 1963.6, 1964.3,
    1965.0, 1966.3, 1967.0, 1968.4, 1969.3, 1970.5, 1971.7, 1972.3, 1973.7, 1974.8,
    1976.0, 1977.5, 1978.0, 1979.5, 1980.8, 1981.4, 1982.7, 1983.8, 1984.5, 1985.4,
    1986.5, 1987.6, 1988.6, 1989.9, 1990.8, 1991.5, 1992.6, 1993.5, 1994.9, 1995.8,
    1996.8, 1997.7, 1998.8, 1999.4, 2000.5, 2001.0, 2002.1, 2003.4, 2004.5, 2005.5,
    2006.9, 2007.4,
]
pt_bai_more = [
    41.2, 34.1, 21.7, 47.6, 22.5, 37.9, 43.6, 28.0, 34.5, 48.6,
    26.6, 37.8, 49.9, 41.8, 32.9, 50.4, 25.9, 40.6, 50.9, 35.2,
    51.6, 38.9, 53.9, 36.0, 22.0, 53.6, 32.2, 51.1, 44.9, 37.0,
    52.7, 42.0, 27.4, 35.6, 42.4, 31.6, 52.4, 38.6, 28.3, 41.8,
    49.0, 37.2, 51.3, 29.4, 41.6, 47.3, 36.0, 50.5, 46.1, 34.3,
    40.2, 53.5, 25.9, 46.5, 37.3, 51.2, 29.8, 42.8, 24.5, 38.1,
    50.2, 38.8, 45.4, 34.0, 48.7, 28.0, 47.4, 30.5, 41.3, 49.8,
    36.6, 41.4, 47.9, 40.5, 42.9, 31.3, 40.2, 43.1, 36.8, 25.8,
    27.6, 19.9,
]

# fitted trends (start / end of the fitted period)
trend_year = [1900, 2008.4]
trend_0 = [34.8, 26.1]
trend_5 = [33.3, 28.2]
trend_10 = [31.9, 30.4]

year_ticks = [1850, 1900, 1950, 2000]

# ---------------- figure ----------------
W, H = 709, 886
fig = plt.figure(figsize=(W / 100, H / 100), dpi=100)
XLIM = (1843.65, 2017.9)


def px_axes(left, top, right, bottom):
    return fig.add_axes([left / W, 1 - bottom / H, (right - left) / W, (bottom - top) / H])


def r_style(ax):
    for s in ax.spines.values():
        s.set_visible(False)
        s.set_linewidth(1.0)
        s.set_color('#222222')
    ax.set_xlim(*XLIM)
    ax.tick_params(axis='both', direction='out', length=5.4, width=1.0, color='#222222',
                   labelsize=11, pad=4)
    ax.tick_params(axis='y', labelrotation=90)
    ax.patch.set_alpha(0)


# (a) histogram
ax_a = px_axes(70, 15, 709, 259)
r_style(ax_a)
ax_a.bar(hist_left, hist_counts, width=5, align='edge', color='#bebebe',
         edgecolor='#222222', linewidth=1.1)
ax_a.set_ylim(0, 300)
ax_a.spines['left'].set_visible(True)
ax_a.spines['left'].set_bounds(0, 300)
ax_a.spines['bottom'].set_visible(True)
ax_a.spines['bottom'].set_bounds(1841, 2010)
ax_a.set_yticks(range(0, 301, 50))
ax_a.set_xticks([])
for lab in ax_a.get_yticklabels():
    lab.set_va('center')

# (b) growth trajectories
ax_b = px_axes(70, 268, 709, 560)
r_style(ax_b)
ax_b.set_ylim(-1.81, 94.12)
for s, vals in zip(traj_start, traj_diam):
    first = (s // 10 + 1) * 10
    xs = [s] + [first + 10 * k for k in range(len(vals))]
    ax_b.plot(xs, [0.3] + vals, color='#8c8c8c', lw=0.75, zorder=2)
for s, vals in zip(traj5_start, traj5_diam):
    first = (s // 5 + 1) * 5
    xs = [s] + [first + 5 * k for k in range(len(vals))]
    ax_b.plot(xs, [0.3] + vals, color='#8c8c8c', lw=0.75, zorder=2)
ax_b.axhline(sampling_hi, color='#b4b4b4', lw=1.0, ls=(0, (5, 3)), zorder=1)
ax_b.axhline(sampling_lo, color='#b4b4b4', lw=1.0, ls=(0, (5, 3)), zorder=1)
ax_b.text(1875, (sampling_lo + sampling_hi) / 2, 'Sampling size', ha='center', va='center',
          fontsize=10.5, color='#222222')
ax_b.plot(green_year, green_diam, color='#2ee02e', lw=2.6, zorder=4, solid_capstyle='round')
ax_b.plot(red_year, red_diam, color='#e8201a', lw=2.6, zorder=4, solid_capstyle='round')
ax_b.spines['left'].set_visible(True)
ax_b.spines['left'].set_bounds(0, 80)
ax_b.set_yticks(range(0, 81, 20))
ax_b.set_xticks([])
for lab in ax_b.get_yticklabels():
    lab.set_va('center')

# (c) growth rates
ax_c = px_axes(70, 565.7, 709, 828.3)
r_style(ax_c)
ax_c.set_ylim(7.58, 62.29)
for xs, ys in [(pt_year_early, pt_bai_early), (pt_year_late, pt_bai_late),
               (pt_year_extra, pt_bai_extra), (pt_year_more, pt_bai_more)]:
    ax_c.scatter(xs, ys, s=19, color='#bdbdbd', edgecolors='none', zorder=1)
ax_c.plot(trend_year, trend_0, color='black', lw=2.0, zorder=3)
ax_c.plot(trend_year, trend_5, color='#33dd33', lw=1.8, ls=(0, (5, 2.5)), zorder=3)
ax_c.plot(trend_year, trend_10, color='#1f7a1f', lw=1.8, ls=(0, (5, 2.5)), zorder=3)
ax_c.plot([green_cross], [green_bai], 'o', color='#2ee02e', ms=7, zorder=5)
ax_c.plot([red_cross], [red_bai], 'o', color='#ee1a1a', ms=7, zorder=5)
ax_c.text(1844.4, 44.7, 'Trend since 1975 = 0% decade$^{-1}$', color='black',
          fontsize=10, va='center', ha='left')
ax_c.text(1844.4, 39.7, 'Trend since 1975 = 5% decade$^{-1}$', color='#22ee22',
          fontsize=10, va='center', ha='left')
ax_c.text(1844.4, 34.7, 'Trend since 1975 = 10% decade$^{-1}$', color='#1c7f1c',
          fontsize=10, va='center', ha='left')
ax_c.spines['left'].set_visible(True)
ax_c.spines['left'].set_bounds(10, 60)
ax_c.spines['bottom'].set_visible(True)
ax_c.spines['bottom'].set_bounds(1850, 2000)
ax_c.set_yticks(range(10, 61, 10))
ax_c.set_xticks(year_ticks)
ax_c.set_xticklabels([str(y) for y in year_ticks])
for lab in ax_c.get_yticklabels():
    lab.set_va('center')

top = ax_c.secondary_xaxis('top')
top.set_xticks(year_ticks)
top.tick_params(direction='in', length=5.4, width=1.0, color='#222222', labeltop=False)
top.spines['top'].set_bounds(1850, 2000)
top.spines['top'].set_linewidth(1.0)
top.spines['top'].set_color('#222222')

# arrows from sampled diameter down to growth rate
for x0, y1 in [(green_cross, green_bai + 1.7), (red_cross, red_bai + 1.2)]:
    con = ConnectionPatch(xyA=(x0, sample_cm), coordsA=ax_b.transData,
                          xyB=(x0, y1), coordsB=ax_c.transData,
                          arrowstyle='->,head_length=0.35,head_width=0.18',
                          linestyle=(0, (2.5, 1.5)), color='#333333', lw=0.9,
                          mutation_scale=10, zorder=6)
    fig.add_artist(con)


# panel titles
def px_text(x, y, s, **kw):
    fig.text(x / W, 1 - y / H, s, **kw)


px_text(77, 25, '(a)', fontsize=14.5, fontweight='bold', va='center')
px_text(110, 25, 'Histogram of simulated recruitment year', fontsize=11.3,
        fontweight='bold', va='center')
px_text(78, 296, '(b)', fontsize=14.5, fontweight='bold', va='center')
px_text(112, 296, 'Simulated growth trajectories', fontsize=11.3, fontweight='bold', va='center')
px_text(76, 592, '(c)', fontsize=14.5, fontweight='bold', va='center')
px_text(112, 592, 'Simulated growth rates at 27 cm.', fontsize=11.3,
        fontweight='bold', va='center')

# axis labels
px_text(22, 137, 'Frequency', fontsize=13, rotation=90, ha='center', va='center')
px_text(22, 433, 'Diameter (cm)', fontsize=13, rotation=90, ha='center', va='center')
px_text(22, 697, 'Basal area growth (cm$^2$ yr$^{-1}$)', fontsize=13, rotation=90,
        ha='center', va='center')
px_text(369, 873, 'year', fontsize=13, ha='center', va='center')

fig.savefig('out.png', dpi=100)
